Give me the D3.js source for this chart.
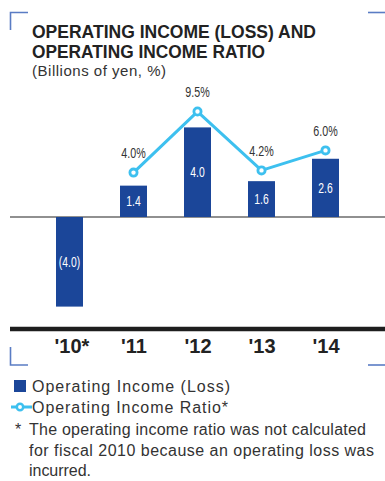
<!DOCTYPE html>
<html>
<head>
<meta charset="utf-8">
<script src="https://cdn.jsdelivr.net/npm/d3@7/dist/d3.min.js"></script>
<style>
  html, body { margin: 0; padding: 0; background: #fff; }
  svg { display: block; }
</style>
</head>
<body>
<svg id="chart" width="385" height="481"></svg>
<script>
// Fiscal years on the category axis
const years = ["'10*", "'11", "'12", "'13", "'14"];
// Operating income (loss), billions of yen
const income = [-4.0, 1.4, 4.0, 1.6, 2.6];
// Operating income ratio, % (not calculated for fiscal 2010)
const ratio = [null, 4.0, 9.5, 4.2, 6.0];

const svg = d3.select("#chart");

const barColor = "#1b4699";
const lineColor = "#3dc0ef";
const frameColor = "#5a7cc4";
const textColor = "#333333";
const sans = "'Liberation Sans', Arial, sans-serif";
const squeeze = 0.74; // horizontal squeeze for the condensed value labels

// Scales
const x = d3.scalePoint().domain(years).range([37.5, 357.5]).padding(0.5);
const y = d3.scaleLinear().domain([-4, 4]).range([306.6, 127.4]);
const yr = d3.scaleLinear().domain([0, 10]).range([y(0), y(0) - 111]);
const barW = 27;

// Corner brackets framing the panel
const frame = svg.append("g").attr("stroke", frameColor).attr("stroke-width", 1.6).attr("fill", "none");
frame.append("path").attr("d", "M10.5,30 V12.5 H28");
frame.append("path").attr("d", "M368,12.5 H385");
frame.append("path").attr("d", "M10.5,347 V365 H28");
frame.append("path").attr("d", "M368,365 H385");

// Title block
const title = svg.append("g").attr("fill", "#222").attr("font-family", sans).attr("font-weight", "bold");
title.append("text").attr("x", 32).attr("y", 37.5).attr("font-size", 18.5)
  .attr("textLength", 284).attr("lengthAdjust", "spacingAndGlyphs")
  .text("OPERATING INCOME (LOSS) AND");
title.append("text").attr("x", 32).attr("y", 58).attr("font-size", 18.5)
  .attr("textLength", 233).attr("lengthAdjust", "spacingAndGlyphs")
  .text("OPERATING INCOME RATIO");
svg.append("text").attr("x", 32).attr("y", 76).attr("font-family", sans).attr("font-size", 15)
  .attr("fill", textColor).attr("textLength", 134).attr("lengthAdjust", "spacing")
  .text("(Billions of yen, %)");

// Zero line
svg.append("line").attr("x1", 10).attr("x2", 385).attr("y1", y(0)).attr("y2", y(0))
  .attr("stroke", "#6b6b6b").attr("stroke-width", 1.5);

// Bars
svg.append("g").selectAll("rect").data(income).join("rect")
  .attr("x", (d, i) => x(years[i]) - barW / 2)
  .attr("y", d => Math.min(y(d), y(0)))
  .attr("width", barW)
  .attr("height", d => Math.abs(y(d) - y(0)))
  .attr("fill", barColor);

// Bar value labels
const fmtIncome = d => d < 0 ? "(" + Math.abs(d).toFixed(1) + ")" : d.toFixed(1);
svg.append("g").selectAll("text").data(income).join("text")
  .attr("transform", (d, i) => `translate(${x(years[i])},${(y(d) + y(0)) / 2}) scale(${squeeze},1)`)
  .attr("dy", "0.36em")
  .attr("text-anchor", "middle")
  .attr("font-family", sans)
  .attr("font-size", 14)
  .attr("fill", "#ffffff")
  .text(fmtIncome);

// Ratio line
const pts = ratio.map((v, i) => ({ v, year: years[i] })).filter(p => p.v !== null);
svg.append("path").datum(pts)
  .attr("d", d3.line().x(p => x(p.year)).y(p => yr(p.v)))
  .attr("fill", "none").attr("stroke", lineColor).attr("stroke-width", 3)
  .attr("stroke-linejoin", "round");
svg.append("g").selectAll("circle").data(pts).join("circle")
  .attr("cx", p => x(p.year)).attr("cy", p => yr(p.v)).attr("r", 3.6)
  .attr("fill", "#fff").attr("stroke", lineColor).attr("stroke-width", 2.8);
svg.append("g").selectAll("text").data(pts).join("text")
  .attr("transform", p => `translate(${x(p.year)},${yr(p.v) - 14.5}) scale(${squeeze},1)`)
  .attr("text-anchor", "middle")
  .attr("font-family", sans).attr("font-size", 14.5)
  .attr("fill", textColor)
  .text(p => p.v.toFixed(1) + "%");

// Category axis
const axis = svg.append("g").attr("transform", "translate(0,329)");
axis.call(d3.axisBottom(x).tickSize(0).tickPadding(0));
axis.select(".domain").remove();
axis.append("line").attr("x1", 10).attr("x2", 385).attr("y1", 0).attr("y2", 0)
  .attr("stroke", "#1e1e1e").attr("stroke-width", 4.5);
axis.selectAll(".tick text")
  .attr("y", 24).attr("dy", null)
  .attr("font-family", sans).attr("font-weight", "bold").attr("font-size", 20)
  .attr("fill", "#222")
  .attr("dx", (d, i) => i === 0 ? 2 : 0);

// Legend
const lg = svg.append("g").attr("font-family", sans).attr("font-size", 16).attr("fill", textColor);
lg.append("rect").attr("x", 14).attr("y", 380).attr("width", 12).attr("height", 12).attr("fill", barColor);
lg.append("text").attr("x", 32).attr("y", 392)
  .attr("textLength", 198).attr("lengthAdjust", "spacing")
  .text("Operating Income (Loss)");
lg.append("line").attr("x1", 11).attr("x2", 32).attr("y1", 407).attr("y2", 407)
  .attr("stroke", lineColor).attr("stroke-width", 3);
lg.append("circle").attr("cx", 20).attr("cy", 407).attr("r", 3.2)
  .attr("fill", "#fff").attr("stroke", lineColor).attr("stroke-width", 2.5);
lg.append("text").attr("x", 32).attr("y", 413)
  .attr("textLength", 196).attr("lengthAdjust", "spacing")
  .text("Operating Income Ratio*");

// Footnote
const note = [
  { t: "The operating income ratio was not calculated", w: 337 },
  { t: "for fiscal 2010 because an operating loss was", w: 345 },
  { t: "incurred.", w: 62 }
];
lg.append("text").attr("x", 15).attr("y", 435).text("*");
lg.selectAll("text.note").data(note).join("text").attr("class", "note")
  .attr("x", 29).attr("y", (d, i) => 435 + i * 20.5)
  .attr("textLength", d => d.w).attr("lengthAdjust", "spacing")
  .text(d => d.t);
</script>
</body>
</html>
